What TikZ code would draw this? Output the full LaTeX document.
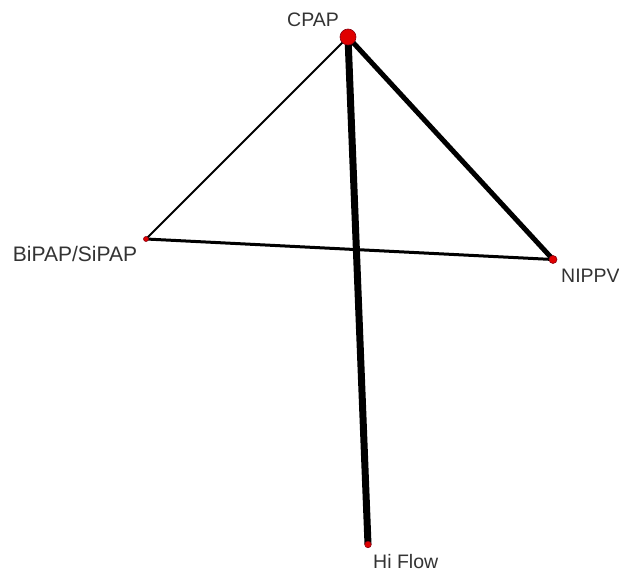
\documentclass[tikz,border=0pt]{standalone}
\usepackage{fontspec}
\setmainfont{Liberation Sans}
\definecolor{txt}{HTML}{333333}
\definecolor{dotred}{HTML}{E00000}
\definecolor{dotedge}{HTML}{8A0010}
\begin{document}
\begin{tikzpicture}[x=1pt,y=-1pt,
  dot/.style={circle,fill=dotred,draw=dotedge,line width=0.6pt,inner sep=0pt},
  lbl/.style={text=txt,font=\fontsize{19.5}{23}\selectfont,inner sep=0pt},
  edge/.style={draw=black,line cap=butt}]
\useasboundingbox[fill=white] (0,0) rectangle (619,572);
\coordinate (pCPAP) at (348,37);
\coordinate (pBi) at (146,239);
\coordinate (pNI) at (553,259.5);
\coordinate (pHF) at (368,544.5);
\draw[edge,line width=7pt] (pCPAP) -- (pHF);
\draw[edge,line width=5pt] (pCPAP) -- (pNI);
\draw[edge,line width=2pt] (pCPAP) -- (pBi);
\draw[edge,line width=3pt] (pBi) -- (pNI);
\node[dot,minimum size=16pt] (CPAP) at (pCPAP) {};
\node[dot,minimum size=5pt] (Bi) at (pBi) {};
\node[dot,minimum size=8pt] (NI) at (pNI) {};
\node[dot,minimum size=6.5pt] (HF) at (pHF) {};
\node[lbl,anchor=base] (lCPAP) at (313,27) {CPAP};
\node[lbl,anchor=base,font=\fontsize{21}{25}\selectfont] (lBi) at (75,262) {BiPAP/SiPAP};
\node[lbl,anchor=base west] (lNI) at (561,283) {NIPPV};
\node[lbl,anchor=base west] (lHF) at (373,568) {Hi Flow};
\end{tikzpicture}
\end{document}
